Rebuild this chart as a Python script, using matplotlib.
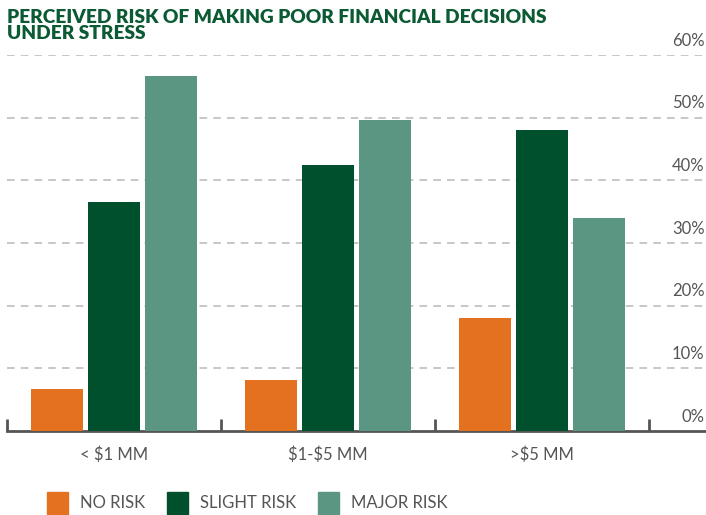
import numpy as np
import matplotlib.pyplot as plt
import matplotlib.patches as patches
from matplotlib.transforms import blended_transform_factory

categories = ['< \\$1 MM', '\\$1-\\$5 MM', '>\\$5 MM']
series_names = ['NO RISK', 'SLIGHT RISK', 'MAJOR RISK']
no_risk = [6.7, 8.1, 18.0]
slight_risk = [36.5, 42.4, 48.0]
major_risk = [56.6, 49.6, 34.0]
y_ticks = [0, 10, 20, 30, 40, 50, 60]

colors = ['#e3711f', '#00502d', '#5a9682']
text_gray = '#555555'
title_green = '#0b5a33'

plt.rcParams['font.family'] = ['Lato', 'DejaVu Sans']

fig = plt.figure(figsize=(7.06, 5.15), dpi=100)
ax = fig.add_axes([7 / 706, 84 / 515, 699 / 706, 376 / 515])

x = np.arange(len(categories))
width = 0.243
step = 0.266
for i, vals in enumerate([no_risk, slight_risk, major_risk]):
    ax.bar(x + (i - 1) * step, vals, width, color=colors[i], zorder=3)

ax.set_xlim(-0.5, 2.766)
ax.set_ylim(0, 60)

# dashed gridlines with labels sitting above them on the right
trans = blended_transform_factory(ax.transAxes, ax.transData)
for t in y_ticks:
    if t > 0:
        ax.axhline(t, color='#b8b8b8', lw=1.1, ls=(0, (5, 4)), zorder=1)
    ax.text(0.998, t + 1.0, f'{t}%', transform=trans, ha='right', va='bottom',
            fontsize=12, color=text_gray)

ax.set_yticks([])
for s in ['top', 'right', 'left']:
    ax.spines[s].set_visible(False)
ax.spines['bottom'].set_color('#555555')
ax.spines['bottom'].set_linewidth(2)

ax.set_xticks([-0.5, 0.5, 1.5, 2.5])
ax.set_xticklabels([])
ax.tick_params(axis='x', which='major', direction='in', length=9, width=2,
               color='#555555')
ax.set_xticks(x, minor=True)
ax.set_xticklabels(categories, minor=True)
ax.tick_params(axis='x', which='minor', length=0, pad=11, labelsize=12,
               labelcolor=text_gray)

fig.text(7 / 706, 1 - 9 / 515,
         'PERCEIVED RISK OF MAKING POOR FINANCIAL DECISIONS\nUNDER STRESS',
         ha='left', va='top', fontsize=13.8, fontweight='heavy',
         color=title_green, linespacing=0.95)

handles = [patches.Patch(color=c, label=n) for c, n in zip(colors, series_names)]
fig.legend(handles=handles, loc='center', bbox_to_anchor=(0.35, 1 - 503 / 515),
           ncol=3, frameon=False, fontsize=12, handlelength=1.3,
           handleheight=1.6, handletextpad=0.7, columnspacing=1.3,
           labelcolor=text_gray)

fig.savefig('out.png', dpi=100)
